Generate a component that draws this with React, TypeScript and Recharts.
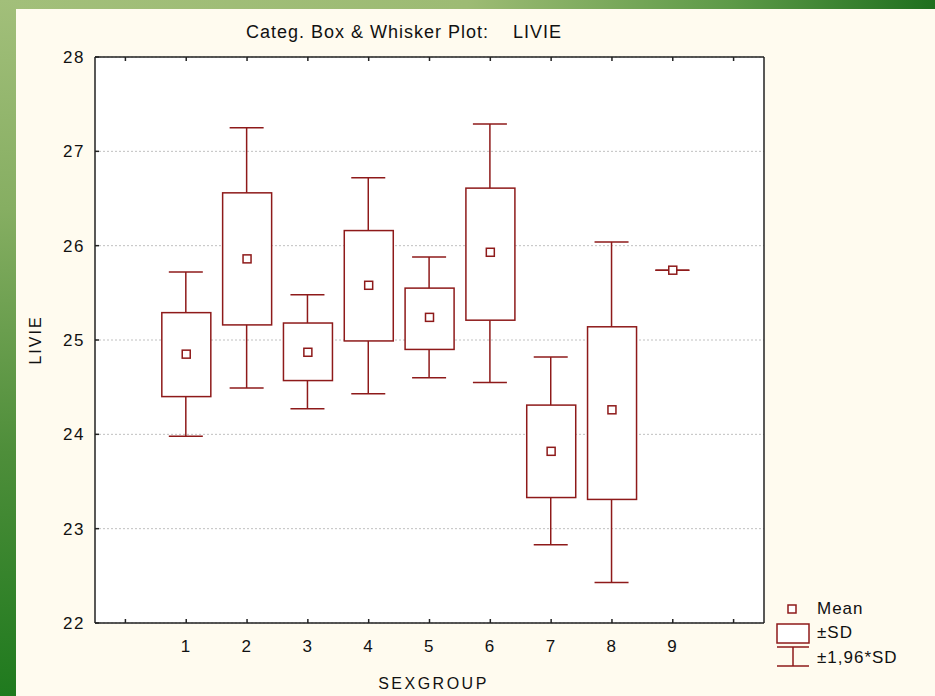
import React from "react";
import {
  ComposedChart,
  Bar,
  Scatter,
  XAxis,
  YAxis,
  CartesianGrid,
} from "recharts";

// group means and spreads
const groups = [1, 2, 3, 4, 5, 6, 7, 8, 9];
const means = [24.85, 25.86, 24.87, 25.58, 25.24, 25.93, 23.82, 24.26, 25.74];
const sdLow = [24.4, 25.16, 24.57, 24.99, 24.9, 25.21, 23.33, 23.31, 25.74];
const sdHigh = [25.29, 26.56, 25.18, 26.16, 25.55, 26.61, 24.31, 25.14, 25.74];
const ciLow = [23.98, 24.49, 24.27, 24.43, 24.6, 24.55, 22.83, 22.43, 25.74];
const ciHigh = [25.72, 27.25, 25.48, 26.72, 25.88, 27.29, 24.82, 26.04, 25.74];

const xTicks = [0, 1, 2, 3, 4, 5, 6, 7, 8, 9, 10];
const yTicks = [22, 23, 24, 25, 26, 27, 28];

const data = groups.map((g, i) => ({
  group: g,
  mean: means[i],
  sd: [sdLow[i], sdHigh[i]],
  ci: [ciLow[i], ciHigh[i]],
}));

const RED = "#8E1A1A";
const FONT = "'Liberation Sans', Arial, sans-serif";

const tickStyle = { fontSize: 17, fill: "#111", fontFamily: FONT, letterSpacing: 1.5 };

function WhiskerShape(props: any) {
  const { x, y, width, height } = props;
  const top = Math.min(y, y + height);
  const bot = Math.max(y, y + height);
  const cx = x + width / 2;
  return (
    <g stroke={RED} strokeWidth={1.5}>
      <line x1={cx} x2={cx} y1={top} y2={bot} />
      <line x1={x} x2={x + width} y1={top} y2={top} />
      <line x1={x} x2={x + width} y1={bot} y2={bot} />
    </g>
  );
}

function BoxShape(props: any) {
  const { x, y, width, height } = props;
  const top = Math.min(y, y + height);
  const h = Math.abs(height);
  return (
    <rect
      x={x}
      y={top}
      width={width}
      height={h}
      fill="#fff"
      stroke={RED}
      strokeWidth={1.5}
    />
  );
}

function MeanShape(props: any) {
  const { cx, cy } = props;
  return (
    <rect
      x={cx - 4}
      y={cy - 4}
      width={8}
      height={8}
      fill="#fff"
      stroke={RED}
      strokeWidth={1.5}
    />
  );
}

const hideEdge = (v: number) => (v >= 1 && v <= 9 ? String(v) : "");

function Legend() {
  const item = {
    position: "absolute" as const,
    left: 817,
    fontFamily: FONT,
    fontSize: 17,
    letterSpacing: 1,
    color: "#111",
    lineHeight: "20px",
  };
  return (
    <>
      <svg
        style={{ position: "absolute", left: 775, top: 600 }}
        width={36}
        height={70}
      >
        <rect x={13} y={5} width={8} height={8} fill="#fff" stroke={RED} strokeWidth={1.5} />
        <rect x={2} y={24} width={32} height={19} fill="#fff" stroke={RED} strokeWidth={1.5} />
        <g stroke={RED} strokeWidth={1.5}>
          <line x1={2} x2={34} y1={47} y2={47} />
          <line x1={2} x2={34} y1={66} y2={66} />
          <line x1={18} x2={18} y1={47} y2={66} />
        </g>
      </svg>
      <div style={{ ...item, top: 599 }}>Mean</div>
      <div style={{ ...item, top: 623 }}>±SD</div>
      <div style={{ ...item, top: 648 }}>±1,96*SD</div>
    </>
  );
}

export default function App() {
  return (
    <div
      style={{
        position: "absolute",
        left: 0,
        top: 0,
        width: 935,
        height: 696,
        background: "#FFFBEF",
        overflow: "hidden",
      }}
    >
      <div
        style={{
          position: "absolute",
          left: 0,
          top: 0,
          width: 935,
          height: 9,
          background: "linear-gradient(to right, #A2BF7A 0%, #9DBB74 50%, #5E9A48 78%, #1F6F1E 100%)",
        }}
      />
      <div
        style={{
          position: "absolute",
          left: 0,
          top: 0,
          width: 16,
          height: 696,
          background: "linear-gradient(to bottom, #A2BF7A 0%, #86AE62 30%, #4E8E3A 65%, #1F7A1E 100%)",
        }}
      />
      <div
        style={{
          position: "absolute",
          left: 0,
          width: 808,
          top: 22,
          textAlign: "center",
          fontFamily: FONT,
          fontSize: 18,
          letterSpacing: 1,
          whiteSpace: "pre",
          color: "#111",
        }}
      >
        {"Categ. Box & Whisker Plot:    LIVIE"}
      </div>
      <div style={{ position: "absolute", left: 0, top: 0 }}>
        <ComposedChart
          width={935}
          height={696}
          data={data}
          margin={{ top: 56, right: 170, bottom: 0, left: 0 }}
        >
          <CartesianGrid
            horizontal
            vertical={false}
            fill="#fff"
            stroke="#c0c0c0"
            strokeDasharray="2 2"
          />
          <XAxis
            xAxisId="a"
            dataKey="group"
            type="number"
            domain={[-0.5, 10.5]}
            ticks={xTicks}
            interval={0}
            tickFormatter={hideEdge}
            height={73}
            tickSize={-4}
            tickMargin={21}
            tick={tickStyle}
            axisLine={{ stroke: "#222", strokeWidth: 1.5 }}
            tickLine={{ stroke: "#222", strokeWidth: 1.5 }}
            label={{
              content: (p: any) => {
                const vb = p.viewBox;
                return (
                  <text
                    x={vb.x + vb.width / 2 + 4}
                    y={vb.y + 66}
                    textAnchor="middle"
                    fontFamily={FONT}
                    fontSize={16}
                    letterSpacing={2.5}
                    fill="#111"
                  >
                    SEXGROUP
                  </text>
                );
              },
            }}
          />
          <XAxis
            xAxisId="t"
            dataKey="group"
            orientation="top"
            type="number"
            domain={[-0.5, 10.5]}
            ticks={xTicks}
            interval={0}
            tickFormatter={() => ""}
            height={1}
            tickSize={-4}
            axisLine={{ stroke: "#222", strokeWidth: 1.5 }}
            tickLine={{ stroke: "#222", strokeWidth: 1.5 }}
          />
          <XAxis
            xAxisId="b"
            dataKey="group"
            type="number"
            domain={[-0.5, 10.5]}
            ticks={xTicks}
            hide
          />
          <YAxis
            type="number"
            domain={[22, 28]}
            ticks={yTicks}
            interval={0}
            width={95}
            tickSize={-4}
            tickMargin={14}
            tick={tickStyle}
            axisLine={{ stroke: "#222", strokeWidth: 1.5 }}
            tickLine={{ stroke: "#222", strokeWidth: 1.5 }}
            label={{
              content: (p: any) => {
                const vb = p.viewBox;
                const cx = 35;
                const cy = vb.y + vb.height / 2;
                return (
                  <text
                    x={cx}
                    y={cy}
                    transform={`rotate(-90 ${cx} ${cy})`}
                    textAnchor="middle"
                    dominantBaseline="central"
                    fontFamily={FONT}
                    fontSize={16}
                    letterSpacing={2}
                    fill="#111"
                  >
                    LIVIE
                  </text>
                );
              },
            }}
          />
          <YAxis
            yAxisId="r"
            orientation="right"
            type="number"
            domain={[22, 28]}
            ticks={yTicks}
            interval={0}
            width={1}
            tickSize={-4}
            tickFormatter={() => ""}
            axisLine={{ stroke: "#222", strokeWidth: 1.5 }}
            tickLine={{ stroke: "#222", strokeWidth: 1.5 }}
          />
          <Bar
            xAxisId="b"
            dataKey="ci"
            barSize={34}
            shape={WhiskerShape}
            isAnimationActive={false}
          />
          <Bar
            xAxisId="a"
            dataKey="sd"
            barSize={49}
            shape={BoxShape}
            isAnimationActive={false}
          />
          <Scatter
            xAxisId="a"
            dataKey="mean"
            shape={MeanShape}
            isAnimationActive={false}
          />
        </ComposedChart>
      </div>
      <Legend />
    </div>
  );
}
